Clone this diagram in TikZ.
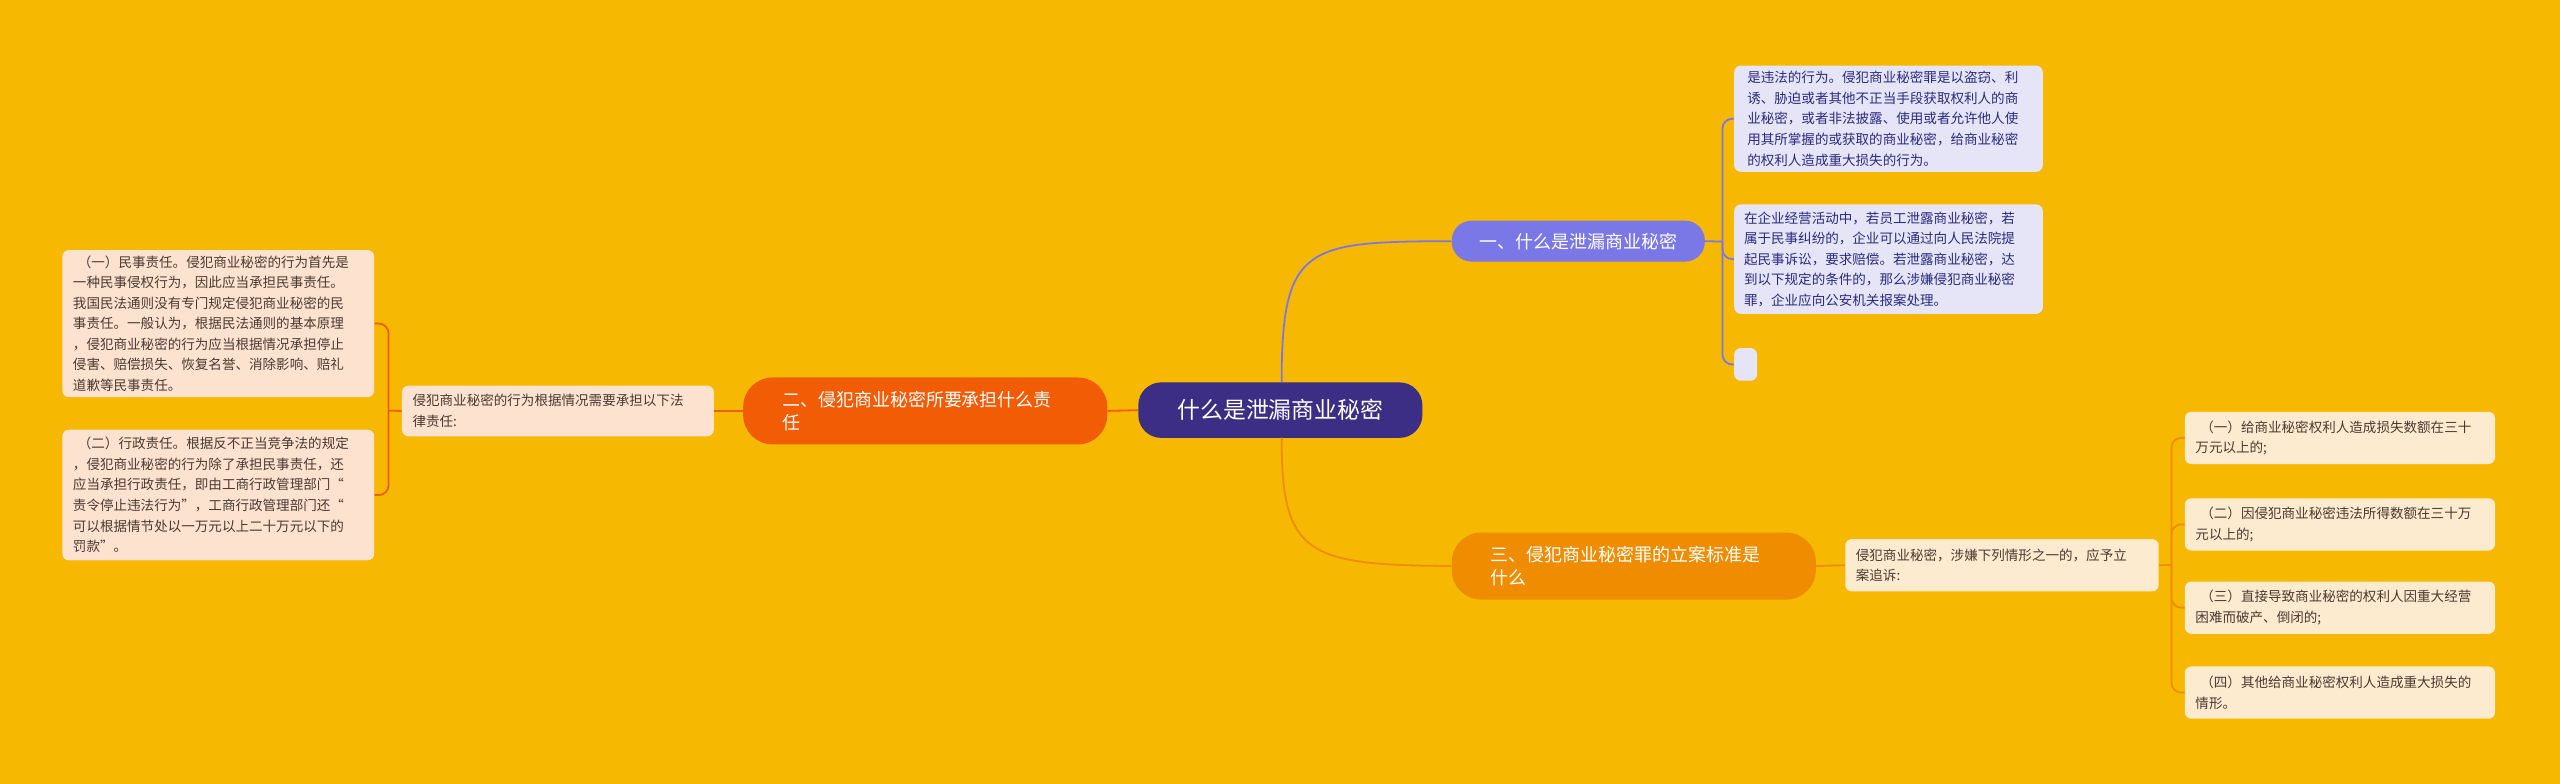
\documentclass[tikz,border=0pt]{standalone}
\usepackage{fontspec}
\setmainfont{Noto Sans CJK SC}
\definecolor{bg}{HTML}{F6B800}
\definecolor{cen}{HTML}{3C2E85}
\definecolor{pur}{HTML}{7A78E6}
\definecolor{purl}{HTML}{E6E5F8}
\definecolor{purt}{HTML}{2B2A80}
\definecolor{red}{HTML}{F25C05}
\definecolor{redl}{HTML}{FDE2D0}
\definecolor{org}{HTML}{F08C00}
\definecolor{orgl}{HTML}{FDEBD0}
\definecolor{dtext}{HTML}{4A3A30}
\tikzset{
 box/.style={rounded corners=4pt,inner sep=0pt,align=left,anchor=north west},
 leaf/.style={box,font=\fontsize{8.3}{12.6}\selectfont},
 br/.style={box,font=\fontsize{11}{14.5}\selectfont,text=white,rounded corners=12pt},
 con/.style={line width=1.1pt,rounded corners=6pt},
}
\begin{document}
\begin{tikzpicture}[x=1pt,y=-1pt]
\fill[bg] (0,0) rectangle (1568,480);
\useasboundingbox (0,0) rectangle (1568,480);
% center
\node[box,fill=cen,text=white,rounded corners=14pt,minimum width=174pt,minimum height=34pt,align=center,font=\fontsize{14}{16}\selectfont] (c) at (697,234) {\hspace{0pt}什么是泄漏商业秘密};
% branch 1
\node[br,fill=pur,minimum width=155pt,minimum height=25pt,align=center] (b1) at (889,135) {一、什么是泄漏商业秘密};
\node[leaf,fill=purl,text=purt,minimum width=189pt,minimum height=65pt,text width=181pt] (l1) at (1062,40) {\hspace*{4pt}\parbox{181pt}{\vspace{3pt}是违法的行为。侵犯商业秘密罪是以盗窃、利\\诱、胁迫或者其他不正当手段获取权利人的商\\业秘密，或者非法披露、使用或者允许他人使\\用其所掌握的或获取的商业秘密，给商业秘密\\的权利人造成重大损失的行为。\vspace{3pt}}};
\node[leaf,fill=purl,text=purt,minimum width=189pt,minimum height=67pt] (l2) at (1062,125) {\hspace*{4pt}\parbox{181pt}{\vspace{3pt}在企业经营活动中，若员工泄露商业秘密，若\\属于民事纠纷的，企业可以通过向人民法院提\\起民事诉讼，要求赔偿。若泄露商业秘密，达\\到以下规定的条件的，那么涉嫌侵犯商业秘密\\罪，企业应向公安机关报案处理。\vspace{3pt}}};
\node[box,fill=purl,minimum width=14pt,minimum height=20pt] (l3) at (1062,213) {};
% branch 2
\node[br,fill=red,minimum width=223pt,minimum height=41pt,rounded corners=18pt] (b2) at (455,231) {\hspace*{20pt}\parbox{195pt}{二、侵犯商业秘密所要承担什么责\\任}};
\node[leaf,fill=redl,text=dtext,minimum width=191pt,minimum height=31pt] (m2) at (246,236) {\hspace*{5pt}\parbox{183pt}{侵犯商业秘密的行为根据情况需要承担以下法\\律责任:}};
\node[leaf,fill=redl,text=dtext,minimum width=191pt,minimum height=90pt] (r1) at (38,153) {\hspace*{5pt}\parbox{183pt}{\vspace{2pt}\hspace*{3pt}（一）民事责任。侵犯商业秘密的行为首先是\\一种民事侵权行为，因此应当承担民事责任。\\我国民法通则没有专门规定侵犯商业秘密的民\\事责任。一般认为，根据民法通则的基本原理\\，侵犯商业秘密的行为应当根据情况承担停止\\侵害、赔偿损失、恢复名誉、消除影响、赔礼\\道歉等民事责任。\vspace{2pt}}};
\node[leaf,fill=redl,text=dtext,minimum width=191pt,minimum height=80pt] (r2) at (38,263) {\hspace*{5pt}\parbox{183pt}{\vspace{2pt}\hspace*{3pt}（二）行政责任。根据反不正当竞争法的规定\\，侵犯商业秘密的行为除了承担民事责任，还\\应当承担行政责任，即由工商行政管理部门“\\责令停止违法行为”，工商行政管理部门还“\\可以根据情节处以一万元以上二十万元以下的\\罚款”。\vspace{2pt}}};
% branch 3
\node[br,fill=org,minimum width=223pt,minimum height=41pt,rounded corners=18pt] (b3) at (889,326) {\hspace*{20pt}\parbox{195pt}{三、侵犯商业秘密罪的立案标准是\\什么}};
\node[leaf,fill=orgl,text=dtext,minimum width=192pt,minimum height=32pt] (m3) at (1130,330) {\hspace*{5pt}\parbox{184pt}{侵犯商业秘密，涉嫌下列情形之一的，应予立\\案追诉:}};
\node[leaf,fill=orgl,text=dtext,minimum width=190pt,minimum height=32pt] (s1) at (1338,252) {\hspace*{5pt}\parbox{182pt}{\hspace*{3pt}（一）给商业秘密权利人造成损失数额在三十\\万元以上的;}};
\node[leaf,fill=orgl,text=dtext,minimum width=190pt,minimum height=32pt] (s2) at (1338,305) {\hspace*{5pt}\parbox{182pt}{\hspace*{3pt}（二）因侵犯商业秘密违法所得数额在三十万\\元以上的;}};
\node[leaf,fill=orgl,text=dtext,minimum width=190pt,minimum height=32pt] (s3) at (1338,356) {\hspace*{5pt}\parbox{182pt}{\hspace*{3pt}（三）直接导致商业秘密的权利人因重大经营\\困难而破产、倒闭的;}};
\node[leaf,fill=orgl,text=dtext,minimum width=190pt,minimum height=32pt] (s4) at (1338,408) {\hspace*{5pt}\parbox{182pt}{\hspace*{3pt}（四）其他给商业秘密权利人造成重大损失的\\情形。}};
% connectors
\coordinate (ct) at (785,234);
\coordinate (cb) at (785,268);
\draw[pur,line width=1.1pt] (ct) .. controls (785,150) and (800,148) .. (b1.west);
\draw[org,line width=1.1pt] (cb) .. controls (785,340) and (800,346) .. (b3.west);
\draw[red,line width=1.1pt] (c.west) -- (b2.east);
\draw[red,line width=1.1pt] (b2.west) -- (m2.east);
\coordinate (j1) at (1055,148);
\draw[pur,line width=1.1pt] (b1.east) -- (j1);
\foreach \t in {l1,l2,l3} \draw[pur,con] (j1) |- (\t.west);
\coordinate (j2) at (238,251.5);
\draw[red,line width=1.1pt] (m2.west) -- (j2);
\foreach \t in {r1,r2} \draw[red,con] (j2) |- (\t.east);
\draw[org,line width=1.1pt] (b3.east) -- (m3.west);
\coordinate (j3) at (1330,346);
\draw[org,line width=1.1pt] (m3.east) -- (j3);
\foreach \t in {s1,s2,s3,s4} \draw[org,con] (j3) |- (\t.west);
\end{tikzpicture}
\end{document}
